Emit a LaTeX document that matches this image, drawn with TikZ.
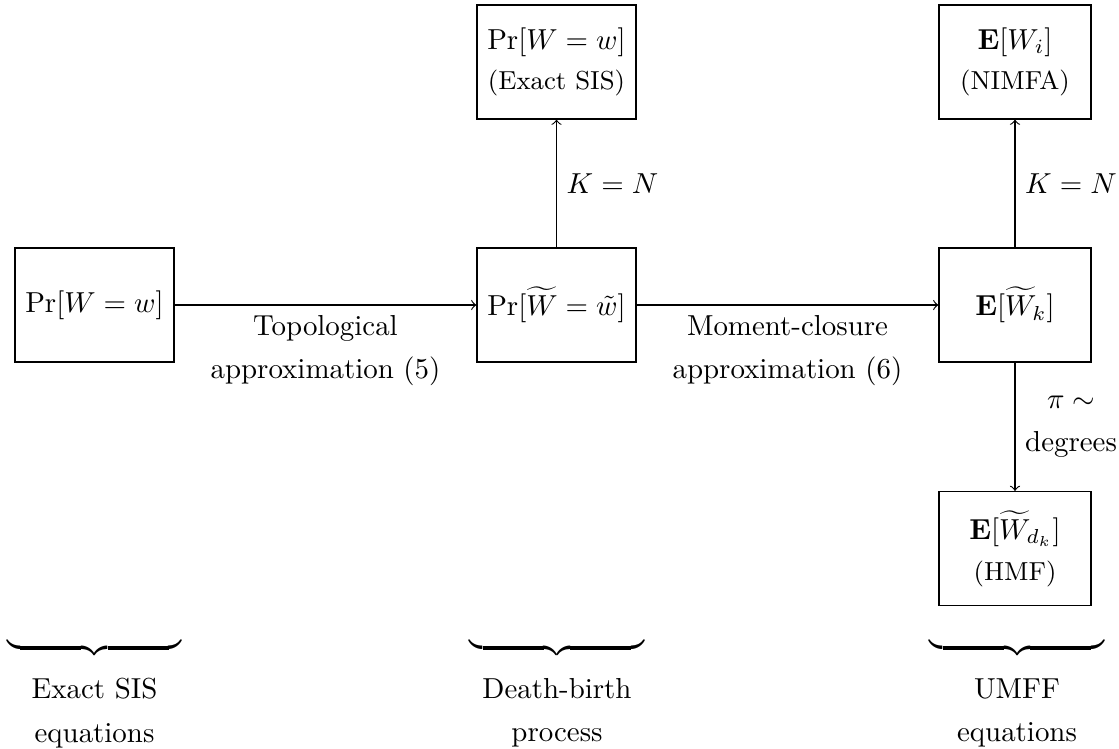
\documentclass[tikz,border=0pt]{standalone}
\usepackage{amsmath}
\begin{document}
\begin{tikzpicture}[x=0.346pt,y=-0.346pt,
  box/.style={draw, align=center, minimum width=55pt, minimum height=39.4pt, inner sep=3.33pt},
  rbox/.style={box, minimum width=52.6pt},
  lab/.style={align=center},
  bracenode/.style={inner sep=0pt},
  >=to]
\useasboundingbox (0,0) rectangle (1119,748);
\node[box] (A) at (94.5,305) {$\Pr[W=w]$};
\node[box] (C) at (556.5,305) {$\Pr[\widetilde{W}=\tilde{w}]$};
\node[box] (T) at (556.5,62) {$\Pr[W=w]$\\[2pt]{\small (Exact SIS)}};
\node[rbox] (R) at (1015,305) {$\mathbf{E}[\widetilde{W}_k]$};
\node[rbox] (RT) at (1015,62) {$\mathbf{E}[W_i]$\\[2pt]{\small (NIMFA)}};
\node[rbox] (RB) at (1015,548.5) {$\mathbf{E}[\widetilde{W}_{d_k}]$\\[2pt]{\small (HMF)}};
\draw[->] (A) -- node[below, lab] {Topological\\[3pt]approximation (5)} (C);
\draw[->] (C) -- node[right] {$K=N$} (T);
\draw[->] (C) -- node[below, lab] {Moment-closure\\[3pt]approximation (6)} (R);
\draw[->] (R) -- node[right] {$K=N$} (RT);
\draw[->] (R) -- node[right, lab] {$\pi\sim$\\[3pt]degrees} (RB);
\node[bracenode] (b1) at (94.5,648) {$\underbrace{\hspace{60.5pt}}$};
\node[bracenode] (b2) at (557,648) {$\underbrace{\hspace{60.5pt}}$};
\node[bracenode] (b3) at (1017,648) {$\underbrace{\hspace{60.5pt}}$};
\node[lab] (l1) at (94.5,713) {Exact SIS\\[3pt]equations};
\node[lab] (l2) at (557,713) {Death-birth\\[3pt]process};
\node[lab] (l3) at (1017,713) {UMFF\\[3pt]equations};
\end{tikzpicture}
\end{document}
